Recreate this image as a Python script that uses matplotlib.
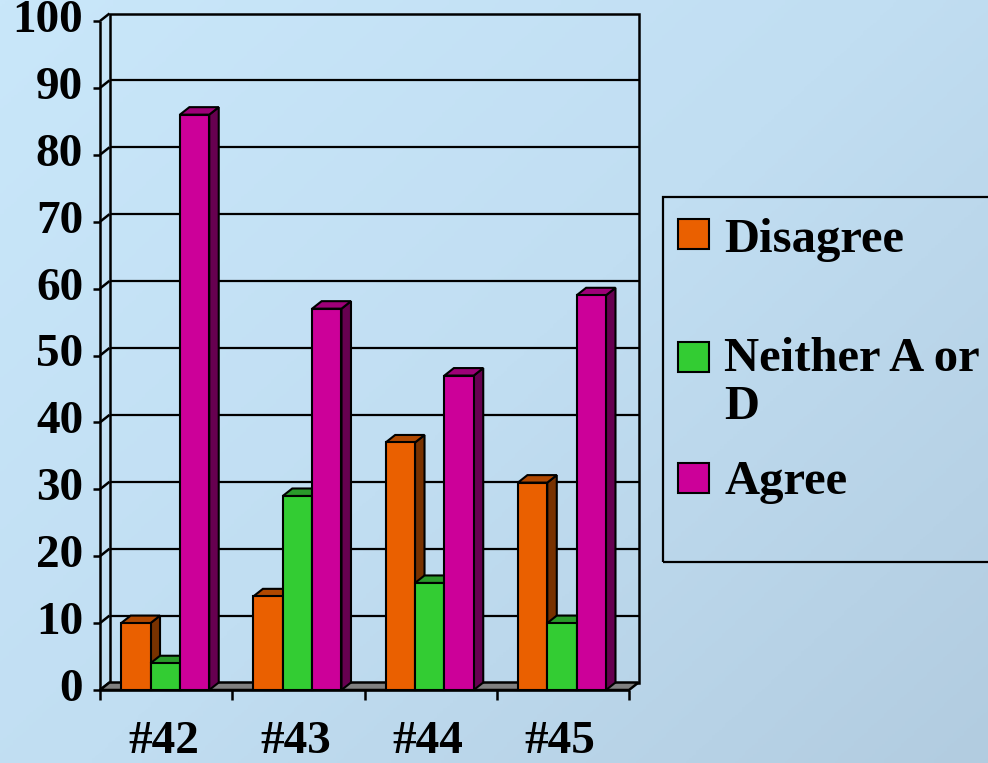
import numpy as np
import matplotlib.pyplot as plt
from matplotlib.patches import Polygon, Rectangle
from matplotlib.colors import LinearSegmentedColormap

questions = ['#42', '#43', '#44', '#45']
series = ['Disagree', 'Neither A or\nD', 'Agree']
disagree = [10, 14, 37, 31]
neither = [4, 29, 16, 10]
agree = [86, 57, 47, 59]
y_ticks = list(range(0, 101, 10))

front_colors = ['#ea6000', '#33cc33', '#cc0099']
side_colors = ['#783200', '#1f7a1f', '#660050']
top_colors = ['#b04800', '#2a9a2a', '#9e0078']

FONT = 'Liberation Serif'
W, H = 988, 763
fig = plt.figure(figsize=(W / 100, H / 100), dpi=100)

# soft blue slide background
bg = fig.add_axes([0, 0, 1, 1], zorder=-10)
yy, xx = np.mgrid[0:1:300j, 0:1:300j]
shade = 0.55 * xx + 0.45 * yy
cmap = LinearSegmentedColormap.from_list('slide', ['#c9e7fa', '#c1def2', '#b2cce0'])
bg.imshow(shade, cmap=cmap, aspect='auto', extent=[0, 1, 0, 1], origin='upper')
bg.axis('off')

# plot area in pixels: front axis x 100..629, y 690 (0) .. 21 (100)
x0, x1, y0, y1 = 100, 629, 690, 21
ax = fig.add_axes([x0 / W, (H - y0) / H, (x1 - x0) / W, (y0 - y1) / H])
ax.set_xlim(0, len(questions))
ax.set_ylim(0, 100)
ax.axis('off')
ax.patch.set_alpha(0)

px_x = len(questions) / (x1 - x0)
px_y = 100 / (y0 - y1)
DX = 9.5 * px_x
DY = 7.5 * px_y
n = len(questions)
lw = 1.8

def line(xs, ys, z=2, w=lw):
    ax.plot(xs, ys, color='black', lw=w, zorder=z, clip_on=False, solid_capstyle='butt')

# back wall and gridlines
ax.add_patch(Rectangle((DX, DY), n, 100, fill=False, ec='black', lw=lw, zorder=2, clip_on=False))
for v in y_ticks[1:-1]:
    line([DX, n + DX], [v + DY, v + DY], w=1.6)

# left wall edges and front value axis
for v in y_ticks:
    line([0, DX], [v, v + DY])
    line([-7 * px_x, 0], [v, v])
    ax.text(-17 * px_x, v, str(v), ha='right', va='center', fontsize=34,
            fontweight='bold', family=FONT, clip_on=False)
line([0, 0], [-10 * px_y, 100])

# floor
ax.add_patch(Polygon([(0, 0), (n, 0), (n + DX, DY), (DX, DY)], closed=True,
                     fc='#808080', ec='black', lw=lw, zorder=3, clip_on=False))
line([0, n], [0, 0], z=3)
for i in range(1, n + 1):
    line([i, i], [0, -10 * px_y], z=3)

# 3D bars
bw = 0.222
off = 0.16
values = [disagree, neither, agree]
for i in range(n):
    for j, vals in enumerate(values):
        z = 10 + (i * 3 + j) * 0.1
        left = i + off + j * bw
        v = vals[i]
        side = [(left + bw, 0), (left + bw + DX, DY), (left + bw + DX, v + DY), (left + bw, v)]
        top = [(left, v), (left + bw, v), (left + bw + DX, v + DY), (left + DX, v + DY)]
        ax.add_patch(Polygon(side, closed=True, fc=side_colors[j], ec='black', lw=1.5,
                             zorder=z, clip_on=False))
        ax.add_patch(Polygon(top, closed=True, fc=top_colors[j], ec='black', lw=1.5,
                             zorder=z, clip_on=False))
        ax.bar(left, v, width=bw, align='edge', color=front_colors[j], edgecolor='black',
               lw=1.5, zorder=z + 0.05, clip_on=False)
    ax.text(i + 0.48, -52 * px_y, questions[i], ha='center', va='center', fontsize=34,
            fontweight='bold', family=FONT, clip_on=False)

# legend panel
def fx(p):
    return p / W

def fy(p):
    return 1 - p / H

fig.patches.append(Rectangle((fx(663), fy(562)), fx(340), (562 - 197) / H, transform=fig.transFigure,
                             fill=False, ec='black', lw=1.6))
key_y = [234, 357, 478]
text_y = [240, 383, 482]
for j, name in enumerate(series):
    fig.patches.append(Rectangle((fx(678), fy(key_y[j] + 15)), 31 / W, 30 / H,
                                 transform=fig.transFigure, fc=front_colors[j], ec='black', lw=1.5))
    fig.text(fx(724), fy(text_y[j]), name, ha='left', va='center', fontsize=35,
             fontweight='bold', family=FONT, linespacing=1.12)

fig.savefig('out.png', dpi=100)
